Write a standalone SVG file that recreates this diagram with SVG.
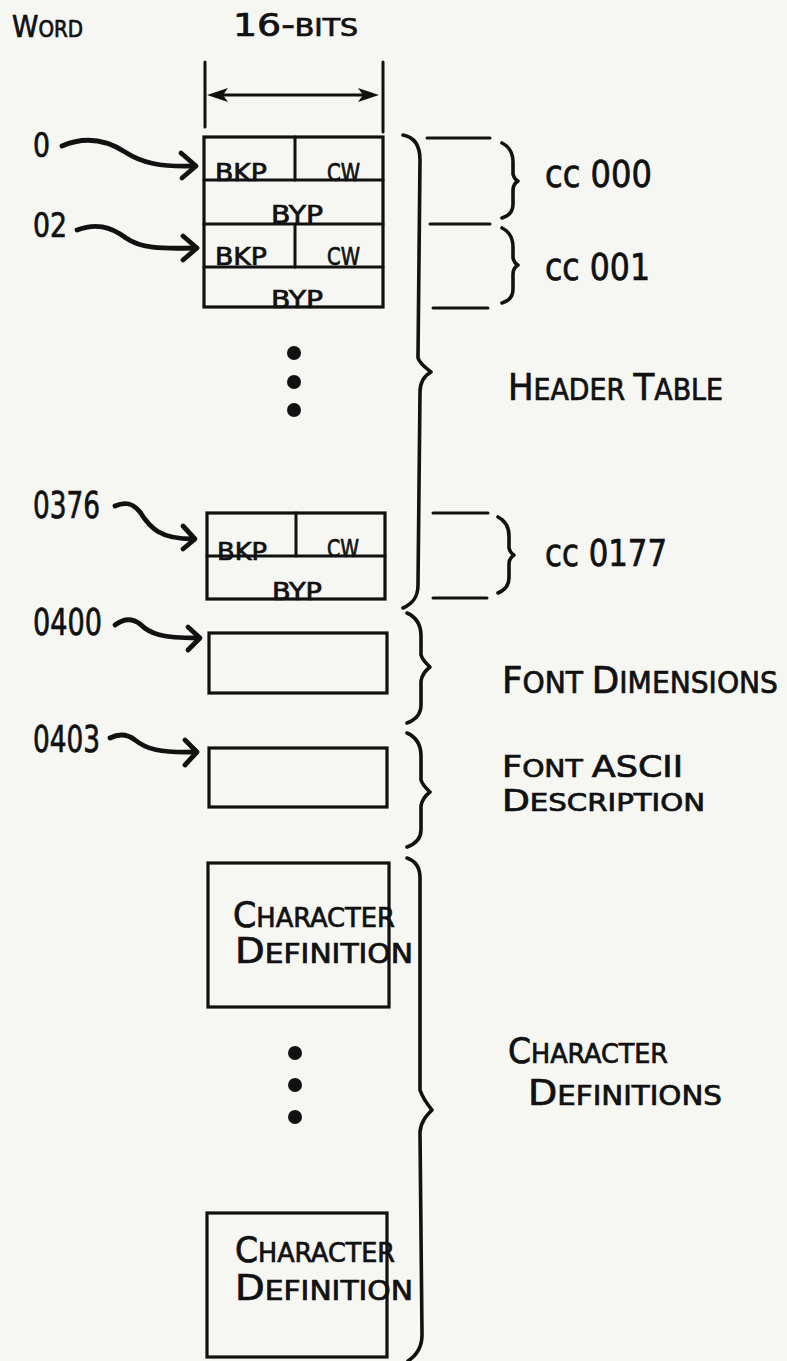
<svg xmlns="http://www.w3.org/2000/svg" width="787" height="1361" viewBox="0 0 787 1361">
<defs>
<style>
.bg{fill:#f6f6f3}
.box{fill:none;stroke:#111;stroke-width:3.2}
.ln{fill:none;stroke:#111;stroke-width:3;stroke-linecap:round}
.br{fill:none;stroke:#111;stroke-width:3.6;stroke-linecap:round;stroke-linejoin:round}
.arr{fill:none;stroke:#111;stroke-width:4.8;stroke-linecap:round;stroke-linejoin:round}
.t{font-family:"DejaVu Sans Condensed","DejaVu Sans","Liberation Sans",sans-serif;fill:#111;stroke:#111;stroke-width:0.7}
.f{font-size:25px}
.num{font-size:34px}
.num2{font-size:37px}
.big{font-size:35px}
.sm{font-size:27px}
.dot{fill:#111}
</style>
</defs>
<rect class="bg" x="0" y="0" width="787" height="1361"/>

<g id="headings">
<text class="t" x="12" y="37" textLength="71" lengthAdjust="spacingAndGlyphs"><tspan font-size="31">W</tspan><tspan font-size="23">ORD</tspan></text>
<text class="t" x="233" y="36" textLength="125" lengthAdjust="spacingAndGlyphs"><tspan font-size="32">16-</tspan><tspan font-size="24">BITS</tspan></text>
<line class="ln" x1="205" y1="62" x2="205" y2="127"/>
<line class="ln" x1="383" y1="62" x2="383" y2="132"/>
<line class="ln" x1="218" y1="95" x2="368" y2="95" stroke-width="4"/>
<polygon class="dot" points="207,95 228,88 223,95 228,102"/>
<polygon class="dot" points="379,95 358,88 363,95 358,102"/>
</g>

<g id="header-table">
<rect class="box" x="204" y="137" width="179" height="170"/>
<line class="ln" x1="204" y1="180" x2="383" y2="180"/>
<line class="ln" x1="204" y1="224" x2="383" y2="224"/>
<line class="ln" x1="204" y1="267" x2="383" y2="267"/>
<line class="ln" x1="295" y1="137" x2="295" y2="180" stroke-width="2.4"/>
<line class="ln" x1="295" y1="224" x2="295" y2="267" stroke-width="2.4"/>
<text class="t f" x="215" y="181" textLength="52" lengthAdjust="spacingAndGlyphs">BKP</text>
<text class="t f" x="327" y="181" textLength="33" lengthAdjust="spacingAndGlyphs">CW</text>
<text class="t f" x="271" y="223" textLength="52" lengthAdjust="spacingAndGlyphs">BYP</text>
<text class="t f" x="215" y="265" textLength="52" lengthAdjust="spacingAndGlyphs">BKP</text>
<text class="t f" x="327" y="265" textLength="33" lengthAdjust="spacingAndGlyphs">CW</text>
<text class="t f" x="271" y="308" textLength="52" lengthAdjust="spacingAndGlyphs">BYP</text>
<circle class="dot" cx="294" cy="353" r="7"/>
<circle class="dot" cx="294" cy="382" r="7"/>
<circle class="dot" cx="294" cy="410" r="7"/>
</g>

<g id="entry-0376">
<rect class="box" x="207" y="513" width="178" height="86"/>
<line class="ln" x1="207" y1="556" x2="385" y2="556"/>
<line class="ln" x1="296" y1="513" x2="296" y2="556" stroke-width="2.4"/>
<text class="t f" x="217" y="560" textLength="50" lengthAdjust="spacingAndGlyphs">BKP</text>
<text class="t f" x="327" y="557" textLength="32" lengthAdjust="spacingAndGlyphs">CW</text>
<text class="t f" x="272" y="600" textLength="50" lengthAdjust="spacingAndGlyphs">BYP</text>
</g>

<g id="font-dimensions-box">
<rect class="box" x="209" y="633" width="178" height="60"/>
</g>

<g id="font-ascii-box">
<rect class="box" x="209" y="748" width="178" height="59"/>
</g>

<g id="char-def-1">
<rect class="box" x="208" y="863" width="181" height="144"/>
<text class="t" x="233" y="927" textLength="162" lengthAdjust="spacingAndGlyphs"><tspan class="big">C</tspan><tspan class="sm">HARACTER</tspan></text>
<text class="t" x="235" y="963" textLength="178" lengthAdjust="spacingAndGlyphs"><tspan class="big">D</tspan><tspan class="sm">EFINITION</tspan></text>
</g>

<g id="char-dots">
<circle class="dot" cx="295" cy="1053" r="7"/>
<circle class="dot" cx="295" cy="1085" r="7"/>
<circle class="dot" cx="295" cy="1117" r="7"/>
</g>

<g id="char-def-2">
<rect class="box" x="207" y="1213" width="180" height="144"/>
<text class="t" x="235" y="1262" textLength="160" lengthAdjust="spacingAndGlyphs"><tspan class="big">C</tspan><tspan class="sm">HARACTER</tspan></text>
<text class="t" x="235" y="1300" textLength="178" lengthAdjust="spacingAndGlyphs"><tspan class="big">D</tspan><tspan class="sm">EFINITION</tspan></text>
</g>

<g id="word-labels">
<text class="t num" x="33" y="157" textLength="17" lengthAdjust="spacingAndGlyphs">0</text>
<text class="t num" x="33" y="237" textLength="34" lengthAdjust="spacingAndGlyphs">02</text>
<text class="t num2" x="33" y="518" textLength="67" lengthAdjust="spacingAndGlyphs">0376</text>
<text class="t num2" x="33" y="635" textLength="69" lengthAdjust="spacingAndGlyphs">0400</text>
<text class="t num2" x="33" y="752" textLength="67" lengthAdjust="spacingAndGlyphs">0403</text>
</g>

<g id="connectors">
<path class="arr" d="M62,146 C85,136 105,139 125,152 C142,163 160,167 193,166"/>
<path class="arr" d="M181,153 L196,166 L182,178"/>
<path class="arr" d="M77,230 C95,223 110,226 126,238 C140,248 160,249 194,248"/>
<path class="arr" d="M183,236 L197,248 L183,260"/>
<path class="arr" d="M115,506 C124,502 132,502 140,512 C150,528 160,539 193,539"/>
<path class="arr" d="M183,526 L195,539 L183,549"/>
<path class="arr" d="M115,625 C123,619 131,617 140,624 C150,634 162,638 197,638"/>
<path class="arr" d="M188,627 L200,638 L188,650"/>
<path class="arr" d="M110,738 C118,734 126,733 135,740 C146,749 160,753 194,752"/>
<path class="arr" d="M185,740 L197,752 L185,765"/>
</g>

<g id="braces">
<path class="br" d="M403,135 C414,137 420,145 420,160 L418,358 C420,364 426,368 431,372 C424,376 420,382 420,392 L418,585 C418,598 412,604 403,608"/>
<line class="ln" x1="427" y1="138" x2="490" y2="138"/>
<line class="ln" x1="430" y1="224" x2="490" y2="224"/>
<line class="ln" x1="433" y1="308" x2="488" y2="308"/>
<path class="br" d="M502,143 C510,147 513,153 513,162 L513,174 C514,178 516,180 518,181 C515,183 513,186 513,190 L513,204 C513,212 509,216 502,218"/>
<path class="br" d="M502,228 C510,232 513,238 513,247 L513,258 C514,262 516,264 518,265 C515,267 513,270 513,274 L513,289 C513,297 509,301 502,303"/>
<line class="ln" x1="433" y1="513" x2="488" y2="513"/>
<line class="ln" x1="433" y1="598" x2="487" y2="598"/>
<path class="br" d="M498,517 C506,521 509,527 509,536 L509,548 C510,552 512,554 514,555 C511,557 509,560 509,564 L509,578 C509,586 505,590 498,593"/>
<path class="br" d="M407,613 C416,617 421,625 421,636 L421,655 C423,661 427,664 430,667 C426,670 422,674 421,681 L421,705 C421,714 415,720 407,723"/>
<path class="br" d="M407,733 C416,737 421,745 421,756 L421,780 C423,786 427,789 430,792 C426,795 422,799 421,806 L421,830 C421,839 415,844 407,847"/>
<path class="br" d="M407,858 C416,861 420,867 420,878 L420,1090 C423,1099 428,1105 432,1110 C427,1115 421,1121 420,1132 L422,1335 C422,1347 417,1355 408,1361"/>
</g>

<g id="labels">
<text class="t num2" x="545" y="187" textLength="107" lengthAdjust="spacingAndGlyphs">cc 000</text>
<text class="t num2" x="545" y="280" textLength="105" lengthAdjust="spacingAndGlyphs">cc 001</text>
<text class="t num2" x="545" y="566" textLength="122" lengthAdjust="spacingAndGlyphs">cc 0177</text>
<text class="t" x="508" y="400" textLength="215" lengthAdjust="spacingAndGlyphs"><tspan font-size="38">H</tspan><tspan font-size="30">EADER </tspan><tspan font-size="38">T</tspan><tspan font-size="30">ABLE</tspan></text>
<text class="t" x="502" y="693" textLength="276" lengthAdjust="spacingAndGlyphs"><tspan font-size="38">F</tspan><tspan font-size="30">ONT </tspan><tspan font-size="38">D</tspan><tspan font-size="30">IMENSIONS</tspan></text>
<text class="t" x="502" y="777" textLength="181" lengthAdjust="spacingAndGlyphs"><tspan font-size="31">F</tspan><tspan font-size="25">ONT </tspan><tspan font-size="31">ASCII</tspan></text>
<text class="t" x="502" y="811" textLength="203" lengthAdjust="spacingAndGlyphs"><tspan font-size="31">D</tspan><tspan font-size="25">ESCRIPTION</tspan></text>
<text class="t" x="508" y="1063" textLength="160" lengthAdjust="spacingAndGlyphs"><tspan class="big">C</tspan><tspan class="sm">HARACTER</tspan></text>
<text class="t" x="528" y="1105" textLength="194" lengthAdjust="spacingAndGlyphs"><tspan class="big">D</tspan><tspan class="sm">EFINITIONS</tspan></text>
</g>
</svg>
